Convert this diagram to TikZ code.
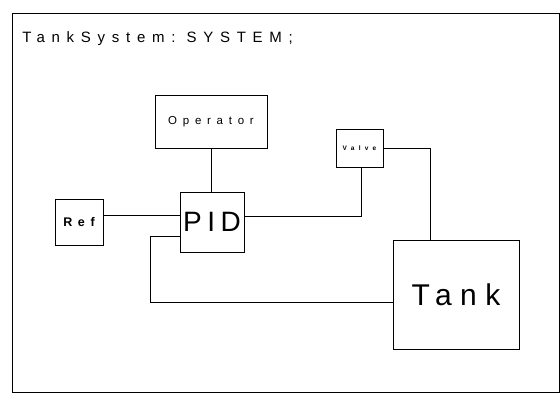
\documentclass[tikz,border=0pt]{standalone}
\usepackage{fontspec}
\usepackage{tikz}
\newfontfamily\plotfont{Liberation Sans}
\newcommand{\plotsize}[2]{\plotfont\fontsize{#1}{#1}\selectfont\addfontfeature{LetterSpace=#2}}

\begin{document}
\begin{tikzpicture}[x=1pt, y=-1pt, line width=0.6pt,
    block/.style={draw, rectangle, inner sep=0pt, align=center}]
    \useasboundingbox (0,0) rectangle (560,400);

    % 1. Bingkai dan judul
    \draw (12,13) rectangle (559,392);
    \node[anchor=base west, inner sep=0pt, font=\plotsize{15}{45}] (title) at (22,42) {TankSystem:\ SYSTEM;};

    % 2. Blok-blok sistem
    \node[block, minimum width=112pt, minimum height=53pt, font=\plotsize{11.5}{50}] (operator) at (211,121.5) {Operator};
    \node[block, minimum width=64pt, minimum height=60pt, font=\plotsize{28}{20}] (pid) at (212,222) {PID};
    \node[block, minimum width=48pt, minimum height=46pt, font=\plotsize{12.5}{45}\bfseries] (ref) at (79,222) {Ref};
    \node[block, minimum width=47pt, minimum height=38pt, font=\plotsize{6.5}{65}\bfseries] (valve) at (359.5,148) {Valve};
    \node[block, minimum width=126pt, minimum height=109pt, font=\plotsize{30}{28}] (tank) at (456,294.5) {Tank};

    % 3. Sambungan antar blok
    \draw (operator.south) -- (operator.south |- pid.north);
    \draw ([yshift=7pt]ref.east) -- ([yshift=7pt]pid.west);
    \draw ([yshift=6pt]pid.east) -| ([xshift=1.5pt]valve.south);
    \draw (valve.east) -| ([xshift=-26pt]tank.north);

    % 4. Umpan balik dari tangki ke PID
    \coordinate (fbcorner) at (150,236);
    \draw ([yshift=-7.5pt]tank.west) -| (fbcorner) -- (fbcorner -| pid.west);
\end{tikzpicture}
\end{document}
